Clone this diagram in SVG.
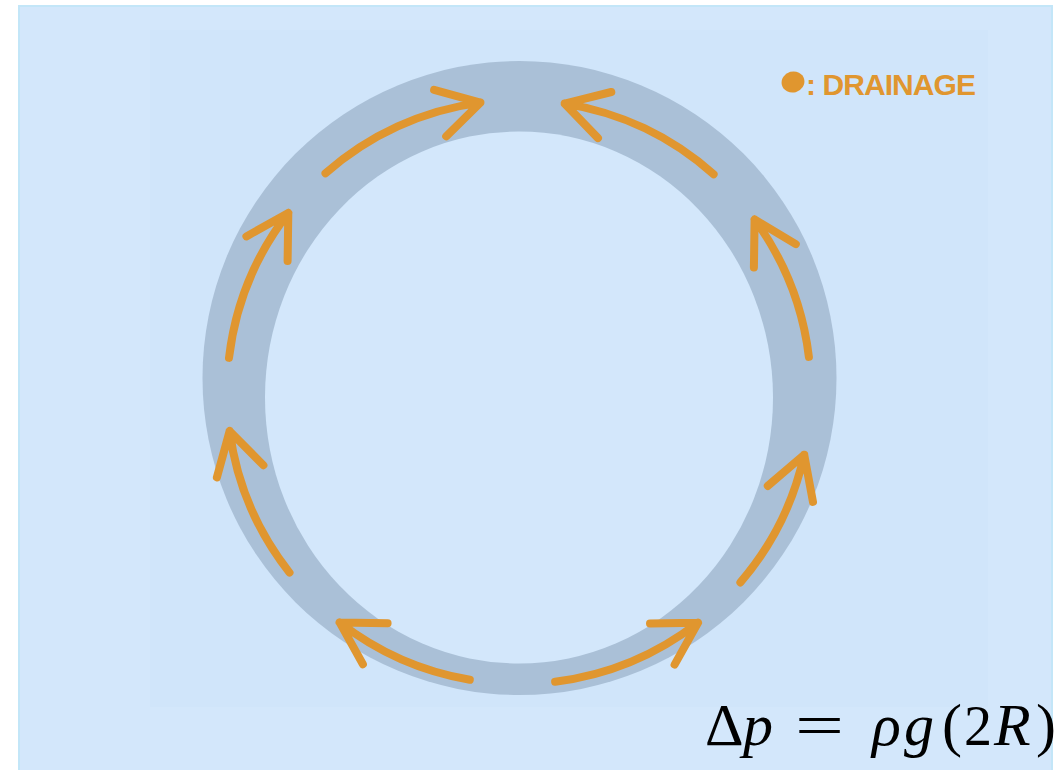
<svg xmlns="http://www.w3.org/2000/svg" width="1064" height="770" viewBox="0 0 1064 770">
  <style>
    .arr { fill: none; stroke: #e0962f; stroke-width: 8; stroke-linecap: round; stroke-linejoin: round; }
    .math { font-family: "Liberation Serif", "DejaVu Serif", serif; font-size: 60px; fill: #000; }
    .it { font-style: italic; }
    .legend { font-family: "Liberation Sans", Arial, sans-serif; font-weight: bold; font-size: 30px; fill: #e0962f; }
  </style>
  <rect x="0" y="0" width="1064" height="770" fill="#ffffff"/>
  <g id="background">
    <rect x="19" y="6" width="1033" height="770" fill="#d3e7fb" stroke="#c3e6f8" stroke-width="2"/>
    <rect x="150" y="30" width="838" height="677" fill="#d0e5fa"/>
  </g>
  <g id="ring">
    <circle cx="519.5" cy="378" r="317" fill="#aac0d7"/>
    <ellipse cx="519" cy="397.5" rx="254" ry="266" fill="#d3e7fb"/>
  </g>
  <g id="connectors">
    <path class="arr" d="M325.5,173.3 A292,292 0 0 1 480.4,102.6 M434.1,89.9 L480.4,102.6 L446.2,136.3"/>
    <path class="arr" d="M713.6,174.3 A292,292 0 0 0 564.7,103.6 M611.3,92 L564.7,103.6 L598,138.1"/>
    <path class="arr" d="M229,357.9 A292,292 0 0 1 288.3,213 M246.4,236.4 L288.3,213 L287.6,261"/>
    <path class="arr" d="M808.9,356.9 A292,292 0 0 0 754.6,219.5 M795.8,244.1 L754.6,219.5 L753.9,267.5"/>
    <path class="arr" d="M289.5,572.6 A292,292 0 0 1 229.6,431.1 M263.4,465.2 L229.6,431.1 L216.9,477.4"/>
    <path class="arr" d="M740.4,582.4 A292,292 0 0 0 804.2,454.7 M813,501.9 L804.2,454.7 L767.8,485.9"/>
    <path class="arr" d="M469.8,679.8 A292,292 0 0 1 339.6,622.4 M387.6,623.2 L339.6,622.4 L362.9,664.3"/>
    <path class="arr" d="M555.1,681.8 A292,292 0 0 0 698,622.7 M650,623.4 L698,622.7 L674.6,664.6"/>
  </g>
  <g id="legend">
    <ellipse cx="793" cy="82" rx="11.5" ry="10.5" fill="#e0962f" transform="rotate(-15 793 82)"/>
    <text class="legend" x="806" y="95" textLength="170" lengthAdjust="spacing">: DRAINAGE</text>
  </g>
  <g id="formula">
    <text class="math" y="745"><tspan x="705">Δ</tspan><tspan class="it" x="743">p</tspan><tspan class="it" x="872">ρ</tspan><tspan class="it" x="904">g</tspan><tspan x="942">(</tspan><tspan x="964" font-size="56">2</tspan><tspan class="it" x="994">R</tspan><tspan x="1036">)</tspan></text>
    <text class="math" transform="translate(795,745) scale(1.45,1)" x="0" y="0">=</text>
  </g>
</svg>
